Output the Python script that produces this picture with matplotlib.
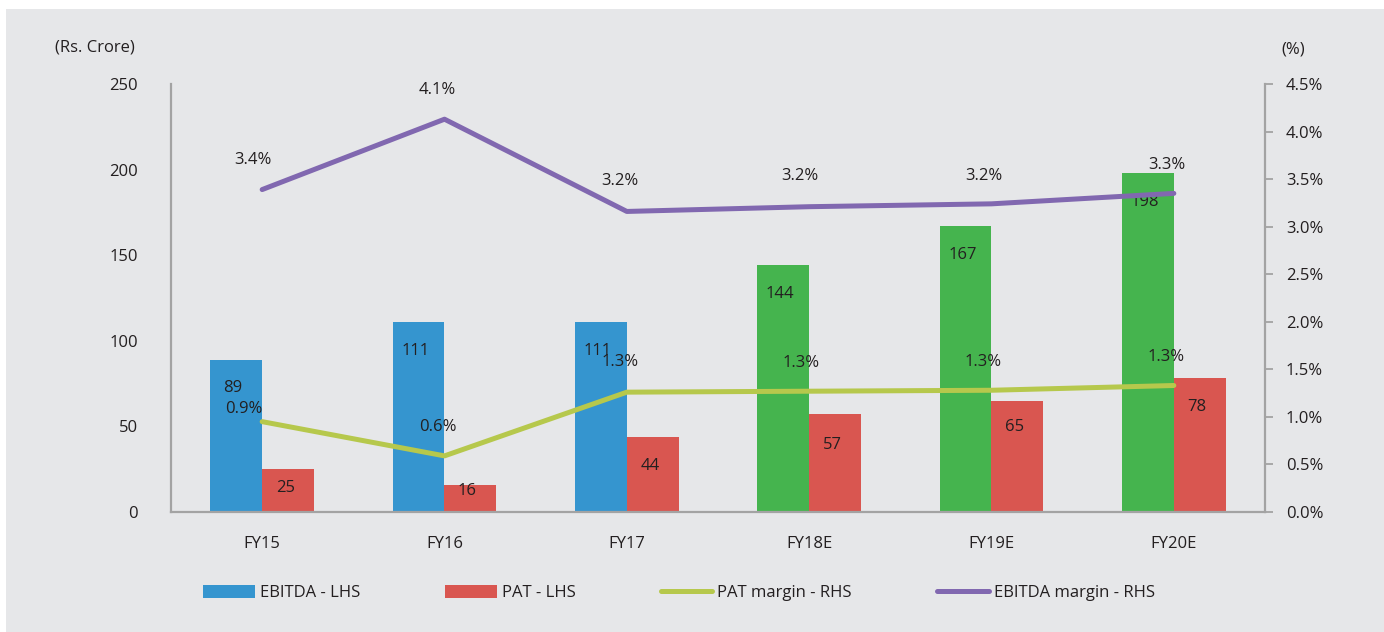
import matplotlib
matplotlib.use("Agg")
import matplotlib.pyplot as plt
import numpy as np
from matplotlib.patches import Rectangle, Patch
from matplotlib.lines import Line2D

# ---------------- data ----------------
categories = ["FY15", "FY16", "FY17", "FY18E", "FY19E", "FY20E"]
ebitda = [89, 111, 111, 144, 167, 198]
pat = [25, 16, 44, 57, 65, 78]
pat_margin = [0.95, 0.59, 1.26, 1.27, 1.28, 1.33]
ebitda_margin = [3.39, 4.13, 3.16, 3.21, 3.24, 3.35]
pat_margin_labels = ["0.9%", "0.6%", "1.3%", "1.3%", "1.3%", "1.3%"]
ebitda_margin_labels = ["3.4%", "4.1%", "3.2%", "3.2%", "3.2%", "3.3%"]
left_ticks = [0, 50, 100, 150, 200, 250]
right_ticks = [0, 0.5, 1.0, 1.5, 2.0, 2.5, 3.0, 3.5, 4.0, 4.5]
n_actual = 3  # first three years actual (blue), rest estimates (green)

# ---------------- style ----------------
FONT = "Open Sans"
plt.rcParams["font.family"] = [FONT, "DejaVu Sans"]
TXT = "#231F20"
BG = "#E6E7E9"
BLUE = "#3595CF"
GREEN = "#45B44E"
RED = "#D95650"
LIME = "#B6C84C"
PURPLE = "#8168B0"
SPINE = "#A3A3A3"
FS = 12

W, H = 1384, 632
fig = plt.figure(figsize=(W / 100, H / 100), dpi=100, facecolor="white")
fig.patches.append(Rectangle((6 / W, 0), 1 - 6 / W, 1 - 9 / H, transform=fig.transFigure,
                             facecolor=BG, edgecolor="none", zorder=-10))

ax = fig.add_axes([171 / W, (H - 512) / H, (1265 - 171) / W, (512 - 84) / H])
ax.set_facecolor("none")
ax2 = ax.twinx()
ax2.set_facecolor("none")

x = np.arange(len(categories))
bw = 0.285
ebitda_colors = [BLUE if i < n_actual else GREEN for i in range(len(categories))]
ax.bar(x - bw / 2, ebitda, width=bw, color=ebitda_colors, zorder=2)
ax.bar(x + bw / 2, pat, width=bw, color=RED, zorder=2)

ax.set_xlim(-0.5, len(categories) - 0.5)
ax.set_ylim(0, 250)
ax.set_yticks(left_ticks)
ax.set_yticklabels([str(v) for v in left_ticks])
ax.set_xticks(x)
ax.set_xticklabels(categories)
ax.tick_params(axis="y", length=0, pad=24, labelsize=FS, labelcolor=TXT)
ax.tick_params(axis="x", length=0, pad=17, labelsize=FS, labelcolor=TXT)

for s in ["top", "right"]:
    ax.spines[s].set_visible(False)
for s in ["left", "bottom"]:
    ax.spines[s].set_color(SPINE)
    ax.spines[s].set_linewidth(1.6)

ax2.set_ylim(0, 4.5)
ax2.set_yticks(right_ticks)
ax2.set_yticklabels([f"{v:.1f}%" for v in right_ticks])
ax2.tick_params(axis="y", length=6, width=1.3, color=SPINE, pad=9, labelsize=FS, labelcolor=TXT)
for s in ["top", "left", "bottom"]:
    ax2.spines[s].set_visible(False)
ax2.spines["right"].set_color(SPINE)
ax2.spines["right"].set_linewidth(1.6)

ax2.plot(x, pat_margin, color=LIME, lw=3.6, solid_capstyle="round", zorder=3)
ax2.plot(x, ebitda_margin, color=PURPLE, lw=3.6, solid_capstyle="round", zorder=3)

# bar value labels
ebitda_off = [-28, -29, -29, -29, -29, -29]
pat_off = [-19, -6, -29, -31, -26, -29]
for i in range(len(categories)):
    ax.annotate(str(ebitda[i]), (x[i] - bw / 2, ebitda[i]), xytext=(-3, ebitda_off[i]),
                textcoords="offset pixels", ha="center", va="center", fontsize=FS, color=TXT, zorder=5)
    ax.annotate(str(pat[i]), (x[i] + bw / 2, pat[i]), xytext=(-3, pat_off[i]),
                textcoords="offset pixels", ha="center", va="center", fontsize=FS, color=TXT, zorder=5)

# line labels
pm_off = [(-18, 13), (-7, 29), (-7, 30), (-8, 28), (-8, 28), (-8, 29)]
em_off = [(-9, 30), (-7, 29), (-7, 30), (-9, 31), (-8, 28), (-7, 28)]
for i in range(len(categories)):
    ax2.annotate(pat_margin_labels[i], (x[i], pat_margin[i]), xytext=pm_off[i],
                 textcoords="offset pixels", ha="center", va="center", fontsize=FS, color=TXT, zorder=6)
    ax2.annotate(ebitda_margin_labels[i], (x[i], ebitda_margin[i]), xytext=em_off[i],
                 textcoords="offset pixels", ha="center", va="center", fontsize=FS, color=TXT, zorder=6)

# axis unit titles
fig.text(95 / W, 1 - 47 / H, "(Rs. Crore)", ha="center", va="center", fontsize=FS, color=TXT)
fig.text(1293 / W, 1 - 50 / H, "(%)", ha="center", va="center", fontsize=FS, color=TXT)

# legend
handles = [
    Patch(facecolor=BLUE, edgecolor="none"),
    Patch(facecolor=RED, edgecolor="none"),
    Line2D([], [], color=LIME, lw=3.6, solid_capstyle="round"),
    Line2D([], [], color=PURPLE, lw=3.6, solid_capstyle="round"),
]
labels = ["EBITDA - LHS", "PAT - LHS", "PAT margin - RHS", "EBITDA margin - RHS"]
fig.legend(handles, labels, loc="center", bbox_to_anchor=(679 / W, 1 - 593 / H), ncol=4,
           frameon=False, fontsize=12, handlelength=3.1, handleheight=0.8, handletextpad=0.3,
           columnspacing=5.1, labelcolor=TXT)

fig.savefig("out.png", dpi=100, facecolor=fig.get_facecolor())
